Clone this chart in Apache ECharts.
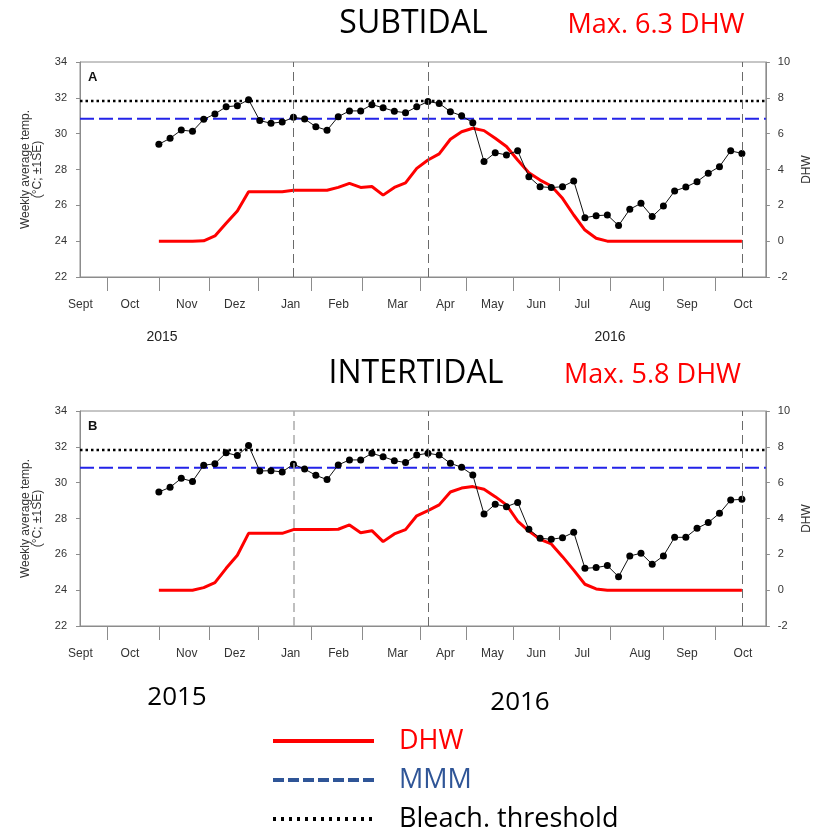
<!DOCTYPE html>
<html>
<head>
<meta charset="utf-8">
<script src="https://cdn.jsdelivr.net/npm/echarts@6/dist/echarts.min.js"></script>
<style>html,body{margin:0;padding:0;background:#fff;}#c{width:821px;height:830px;}</style>
</head>
<body>
<div id="c"></div>
<script>
// ---- data ----
const weeks = [0,1,2,3,4,5,6,7,8,9,10,11,12,13,14,15,16,17,18,19,20,21,22,23,24,25,26,27,28,29,30,31,32,33,34,35,36,37,38,39,40,41,42,43,44,45,46,47,48,49,50,51,52];
const subTemp = [29.41,29.74,30.2,30.13,30.8,31.1,31.5,31.56,31.9,30.73,30.58,30.65,30.91,30.82,30.39,30.19,30.95,31.27,31.27,31.62,31.45,31.25,31.17,31.5,31.79,31.69,31.23,31.0,30.61,28.44,28.94,28.81,29.05,27.6,27.04,26.99,27.04,27.36,25.31,25.42,25.46,24.87,25.78,26.11,25.37,25.96,26.8,27.02,27.32,27.79,28.16,29.04,28.9];
const subDHW = [0,0,0,0,0.02,0.29,1.0,1.69,2.76,2.76,2.76,2.76,2.84,2.84,2.84,2.84,3.0,3.23,3.0,3.05,2.57,3.0,3.25,4.06,4.53,4.87,5.69,6.11,6.3,6.17,5.74,5.28,4.53,3.82,3.41,3.08,2.39,1.46,0.62,0.16,0,0,0,0,0,0,0,0,0,0,0,0,0];
const interTemp = [29.48,29.74,30.24,30.07,30.97,31.06,31.67,31.51,32.07,30.65,30.67,30.6,31.03,30.76,30.41,30.17,30.99,31.27,31.27,31.64,31.45,31.23,31.12,31.54,31.64,31.54,31.08,30.86,30.43,28.25,28.8,28.66,28.9,27.4,26.9,26.84,26.93,27.23,25.22,25.26,25.37,24.75,25.91,26.06,25.45,25.91,26.95,26.95,27.45,27.77,28.29,29.03,29.07];
const interDHW = [0,0,0,0,0.14,0.42,1.22,1.95,3.17,3.17,3.17,3.17,3.38,3.38,3.38,3.38,3.4,3.64,3.21,3.32,2.71,3.14,3.38,4.15,4.44,4.76,5.48,5.7,5.78,5.63,5.22,4.76,3.86,3.3,2.84,2.58,1.87,1.12,0.33,0.07,0,0,0,0,0,0,0,0,0,0,0,0,0];
const MMM = 30.83;
const BLEACH = 31.83;
const X_MIN = -7.034, X_MAX = 54.137;
const monthTickPos = [-4.63,0,4.45,8.90,13.62,18.16,23.33,27.42,31.61,35.71,40.25,44.97,49.60];
const monthLabels = ['Sept','Oct','Nov','Dez','Jan','Feb','Mar','Apr','May','Jun','Jul','Aug','Sep','Oct'];
const monthLabelPos = [-7.0,-2.58,2.49,6.77,11.75,16.03,21.28,25.55,29.74,33.66,37.75,42.92,47.10,52.09];
const refWeeks = [12,24,52];
const tempAxisName = 'Weekly average temp.\n(°C; ±1SE)';

// ---- chart ----
const AX = '#8c8c8c';
const ARIAL = 'Liberation Sans';
const CAL = 'Open Sans';
const grids = [{top:62},{top:411}];

function monthName(v){
  let bi=0, bd=1e9;
  monthLabelPos.forEach((p,i)=>{const d=Math.abs(p-v); if(d<bd){bd=d;bi=i;}});
  return monthLabels[bi];
}

const xAxes = grids.map((g,i)=>({
  type:'value', gridIndex:i, min:X_MIN, max:X_MAX, position:'bottom',
  axisLine:{show:true, onZero:false, lineStyle:{color:AX, width:1}},
  axisTick:{show:true, inside:false, length:14, customValues:monthTickPos, lineStyle:{color:AX, width:1}},
  axisLabel:{show:true, customValues:monthLabelPos, formatter:monthName, margin:22, color:'#333', fontSize:12, fontFamily:ARIAL, showMinLabel:true, showMaxLabel:true},
  splitLine:{show:false}
}));
const yAxes = [];
grids.forEach((g,i)=>{
  yAxes.push({
    type:'value', gridIndex:i, position:'left', min:22, max:34, interval:2,
    axisLine:{show:true, onZero:false, lineStyle:{color:AX}},
    axisTick:{show:true, length:4, lineStyle:{color:AX}},
    axisLabel:{margin:13, fontSize:11, color:'#333', fontFamily:ARIAL},
    splitLine:{show:false},
    name:tempAxisName, nameLocation:'middle', nameGap:34, nameRotate:90,
    nameTextStyle:{fontSize:12, lineHeight:12, color:'#333', fontFamily:ARIAL}
  });
  yAxes.push({
    type:'value', gridIndex:i, position:'right', min:-2, max:10, interval:2,
    axisLine:{show:true, onZero:false, lineStyle:{color:AX}},
    axisTick:{show:true, length:4, lineStyle:{color:AX}},
    axisLabel:{margin:12, fontSize:11, color:'#333', fontFamily:ARIAL},
    splitLine:{show:false},
    name:'DHW', nameLocation:'middle', nameGap:33, nameRotate:90,
    nameTextStyle:{fontSize:12, color:'#333', fontFamily:ARIAL}
  });
});

const panels = [{temp:subTemp, dhw:subDHW},{temp:interTemp, dhw:interDHW}];
const series = [];
panels.forEach((p,i)=>{
  series.push({
    name:'MMM', type:'line', xAxisIndex:i, yAxisIndex:2*i, symbol:'none', z:2,
    data:[[X_MIN,MMM],[X_MAX,MMM]],
    lineStyle:{color:'#2323e8', width:2, type:[14,5]}, itemStyle:{color:'#2323e8'}
  });
  series.push({
    name:'Bleach. threshold', type:'line', xAxisIndex:i, yAxisIndex:2*i, symbol:'none', z:2,
    data:[[X_MIN,BLEACH],[X_MAX,BLEACH]],
    lineStyle:{color:'#000', width:2.5, type:[2.5,3]}, itemStyle:{color:'#000'}
  });
  series.push({
    name:'DHW', type:'line', xAxisIndex:i, yAxisIndex:2*i+1, symbol:'none', z:3,
    data:weeks.map((w,k)=>[w,p.dhw[k]]),
    lineStyle:{color:'#ff0000', width:3}, itemStyle:{color:'#ff0000'}
  });
  series.push({
    name:'Temp', type:'line', xAxisIndex:i, yAxisIndex:2*i, symbol:'circle', symbolSize:7, z:4,
    data:weeks.map((w,k)=>[w,p.temp[k]]),
    lineStyle:{color:'#111', width:1}, itemStyle:{color:'#000'},
    markLine:{
      symbol:['none','none'], silent:true, animation:false, label:{show:false},
      lineStyle:{type:[9,5], color:'#6a6a6a', width:1},
      emphasis:{disabled:true},
      data:refWeeks.map((w,j)=>(i===1&&j===0)?{xAxis:w, lineStyle:{color:'#aaaaaa', width:1.5, type:[9,5]}}:{xAxis:w})
    }
  });
});

function txt(text,x,y,size,family,color,weight,align){
  return {type:'text', x:x, y:y, silent:true, style:{text:text, fontSize:size, fontFamily:family, fontWeight:weight||'normal', fill:color,
    align:align||'center', textAlign:align||'center', verticalAlign:'middle', textVerticalAlign:'middle'}};
}

const option = {
  animation:false,
  backgroundColor:'#fff',
  grid: grids.map(g=>({left:80, top:g.top, width:687, height:215, show:true, borderColor:AX, borderWidth:1, backgroundColor:'transparent'})),
  xAxis:xAxes,
  yAxis:yAxes,
  legend:{
    left:271, top:726, width:400, height:140, orient:'vertical', itemWidth:101, itemHeight:30, itemGap:9, selectedMode:false, padding:0,
    textStyle:{fontFamily:CAL, fontSize:27, padding:[0,0,0,20], lineHeight:30},
    data:[
      {name:'DHW', textStyle:{color:'#ff0000'}, itemStyle:{opacity:0}, lineStyle:{color:'#ff0000', width:4, type:'solid'}},
      {name:'MMM', textStyle:{color:'#2F5597'}, itemStyle:{opacity:0}, lineStyle:{color:'#2F5597', width:4, type:[11,4]}},
      {name:'Bleach. threshold', textStyle:{color:'#000'}, itemStyle:{opacity:0}, lineStyle:{color:'#000', width:4, type:[3,5]}}
    ]
  },
  graphic:[
    txt('SUBTIDAL',413.5,24,32,CAL,'#000'),
    txt('Max. 6.3 DHW',656,25.5,27,CAL,'#ff0000'),
    txt('INTERTIDAL',416,374,32,CAL,'#000'),
    txt('Max. 5.8 DHW',652.5,375.5,27,CAL,'#ff0000'),
    txt('2015',162,337,14,ARIAL,'#222'),
    txt('2016',610,337,14,ARIAL,'#222'),
    txt('2015',177,698,26,CAL,'#000'),
    txt('2016',520,702.5,26,CAL,'#000'),
    txt('A',88,77.5,13,ARIAL,'#111','bold','left'),
    txt('B',88,426,13,ARIAL,'#111','bold','left')
  ],
  series:series
};
const chart = echarts.init(document.getElementById('c'), null, {renderer:'canvas'});
chart.setOption(option);
</script>
</body>
</html>
